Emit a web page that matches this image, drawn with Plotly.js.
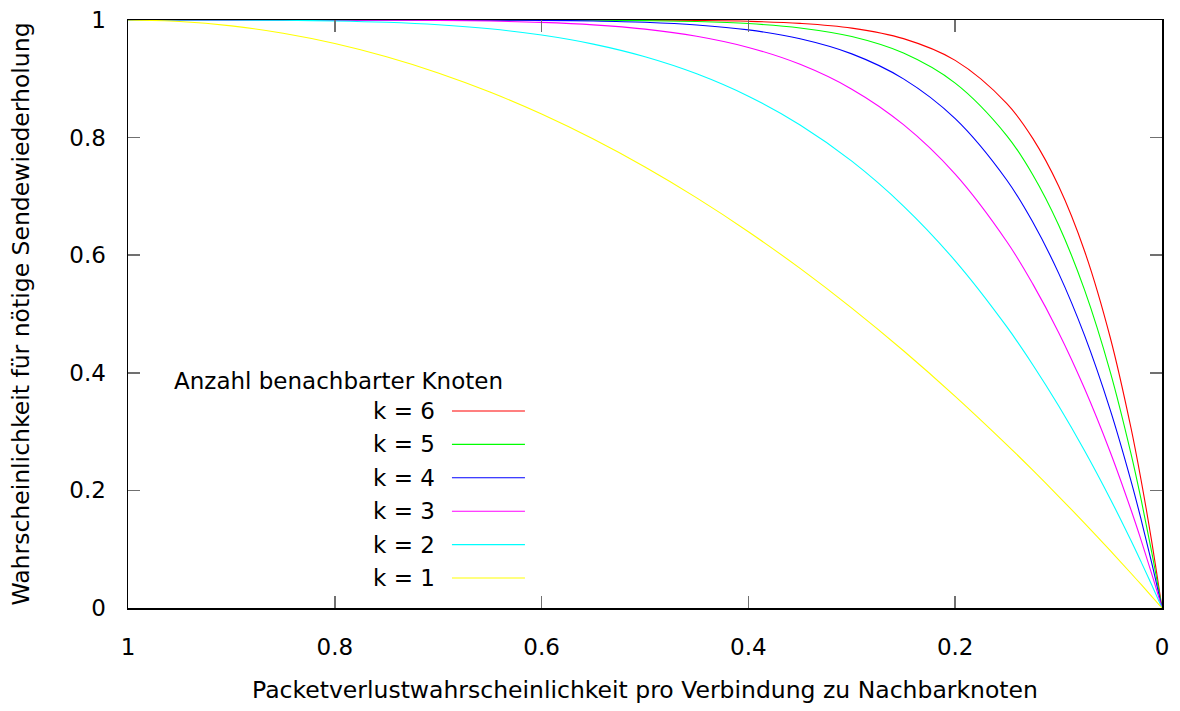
<!DOCTYPE html>
<html>
<head>
<meta charset="utf-8">
<script src="https://cdn.plot.ly/plotly-3.0.1.min.js"></script>
<style>
html, body { margin: 0; padding: 0; background: #ffffff; }
#chart { width: 1180px; height: 711px; }
</style>
</head>
<body>
<div id="chart"></div>
<script>
// Packet loss probability per link (x axis, drawn reversed from 1 to 0)
const lossProb = [0, 0.01, 0.02, 0.03, 0.05, 0.075, 0.1, 0.125, 0.15, 0.2, 0.25, 0.3, 0.35, 0.4, 0.45, 0.5, 0.55, 0.6, 0.65, 0.7, 0.75, 0.8, 0.85, 0.9, 0.95, 1];

// Probability that a retransmission is needed per neighbour count
const k6 = [0, 0.1136, 0.2153, 0.3062, 0.4596, 0.6076, 0.7176, 0.7986, 0.8578, 0.9313, 0.9683, 0.9862, 0.9943, 0.9978, 0.9992, 0.9998, 0.9999, 1, 1, 1, 1, 1, 1, 1, 1, 1];
const k5 = [0, 0.0956, 0.1829, 0.2626, 0.4013, 0.5414, 0.6513, 0.7369, 0.8031, 0.8926, 0.9437, 0.9718, 0.9865, 0.9940, 0.9975, 0.9990, 0.9997, 0.9999, 1, 1, 1, 1, 1, 1, 1, 1];
const k4 = [0, 0.0773, 0.1492, 0.2163, 0.3366, 0.4640, 0.5695, 0.6564, 0.7275, 0.8322, 0.8999, 0.9424, 0.9681, 0.9832, 0.9916, 0.9961, 0.9983, 0.9993, 0.9998, 0.9999, 1, 1, 1, 1, 1, 1];
const k3 = [0, 0.0585, 0.1142, 0.1670, 0.2649, 0.3736, 0.4686, 0.5512, 0.6229, 0.7379, 0.8220, 0.8824, 0.9246, 0.9533, 0.9723, 0.9844, 0.9917, 0.9959, 0.9982, 0.9993, 0.9998, 0.9999, 1, 1, 1, 1];
const k2 = [0, 0.0394, 0.0776, 0.1147, 0.1855, 0.2679, 0.3439, 0.4138, 0.4780, 0.5904, 0.6836, 0.7599, 0.8215, 0.8704, 0.9085, 0.9375, 0.9590, 0.9744, 0.9850, 0.9919, 0.9961, 0.9984, 0.9995, 0.9999, 1, 1];
const k1 = [0, 0.0199, 0.0396, 0.0591, 0.0975, 0.1444, 0.1900, 0.2344, 0.2775, 0.3600, 0.4375, 0.5100, 0.5775, 0.6400, 0.6975, 0.7500, 0.7975, 0.8400, 0.8775, 0.9100, 0.9375, 0.9600, 0.9775, 0.9900, 0.9975, 1];

const seriesNames = ["k = 6", "k = 5", "k = 4", "k = 3", "k = 2", "k = 1"];
const seriesValues = [k6, k5, k4, k3, k2, k1];
const seriesColors = ["#ff0000", "#00ff00", "#0000ff", "#ff00ff", "#00ffff", "#ffff00"];

const tickValues = [1, 0.8, 0.6, 0.4, 0.2, 0];
const tickLabels = ["1", "0.8", "0.6", "0.4", "0.2", "0"];
const yTickValues = [0, 0.2, 0.4, 0.6, 0.8, 1];
const yTickLabels = ["0", "0.2", "0.4", "0.6", "0.8", "1"];

const legendTitle = "Anzahl benachbarter Knoten";
const xTitle = "Packetverlustwahrscheinlichkeit pro Verbindung zu Nachbarknoten";
const yTitle = "Wahrscheinlichkeit für nötige Sendewiederholung";

const FONT = "DejaVu Sans, Verdana, sans-serif";
const FS = 23;
const TFS = 23.5;

const traces = seriesValues.map((vals, i) => ({
  type: "scatter",
  mode: "lines",
  x: lossProb,
  y: vals,
  name: seriesNames[i],
  line: { color: seriesColors[i], width: 1.1, shape: "spline", smoothing: 1 },
  showlegend: false,
  cliponaxis: true,
  hoverinfo: "skip"
}));

// Custom gnuplot-style key: text right-aligned, sample line to the right
const keyTextX = 0.2988;
const keyLineX0 = 0.3133, keyLineX1 = 0.3839;
const keyTopY = 0.335, keyStep = 0.0568;
const annotations = [{
  xref: "paper", yref: "paper", x: 0.0425, y: 0.386,
  xanchor: "left", yanchor: "middle", showarrow: false,
  text: legendTitle, font: { family: FONT, size: FS, color: "#000" }
}];
const shapes = [];
seriesNames.forEach((nm, i) => {
  const yy = keyTopY - i * keyStep;
  annotations.push({
    xref: "paper", yref: "paper", x: keyTextX, y: yy,
    xanchor: "right", yanchor: "middle", showarrow: false,
    text: nm, font: { family: FONT, size: FS, color: "#000" }
  });
  shapes.push({
    type: "line", xref: "paper", yref: "paper",
    x0: keyLineX0, x1: keyLineX1, y0: yy, y1: yy,
    line: { color: seriesColors[i], width: 1.1 }
  });
});

const layout = {
  width: 1180, height: 711,
  margin: { l: 128, r: 18, t: 20, b: 103, pad: 0 },
  paper_bgcolor: "#ffffff",
  plot_bgcolor: "#ffffff",
  font: { family: FONT, size: FS, color: "#000" },
  showlegend: false,
  xaxis: {
    range: [1, 0],
    tickvals: tickValues, ticktext: tickLabels,
    ticks: "inside", ticklen: 12, tickwidth: 1.5, tickcolor: "#707070",
    showline: true, linecolor: "#000", linewidth: 1.5, mirror: "allticks",
    showgrid: false, zeroline: false,
    ticklabelstandoff: 18,
    tickfont: { family: FONT, size: FS, color: "#000" },
    title: { text: xTitle, font: { family: FONT, size: TFS, color: "#000" }, standoff: 22 },
    automargin: false
  },
  yaxis: {
    range: [0, 1],
    tickvals: yTickValues, ticktext: yTickLabels,
    ticks: "inside", ticklen: 12, tickwidth: 1.5, tickcolor: "#707070",
    showline: true, linecolor: "#000", linewidth: 1.5, mirror: "allticks",
    showgrid: false, zeroline: false,
    ticklabelstandoff: 16,
    tickfont: { family: FONT, size: FS, color: "#000" },
    title: { text: yTitle, font: { family: FONT, size: TFS, color: "#000" }, standoff: 33 },
    automargin: false
  },
  annotations: annotations,
  shapes: shapes
};

Plotly.newPlot("chart", traces, layout, { staticPlot: true, displayModeBar: false });
</script>
</body>
</html>
